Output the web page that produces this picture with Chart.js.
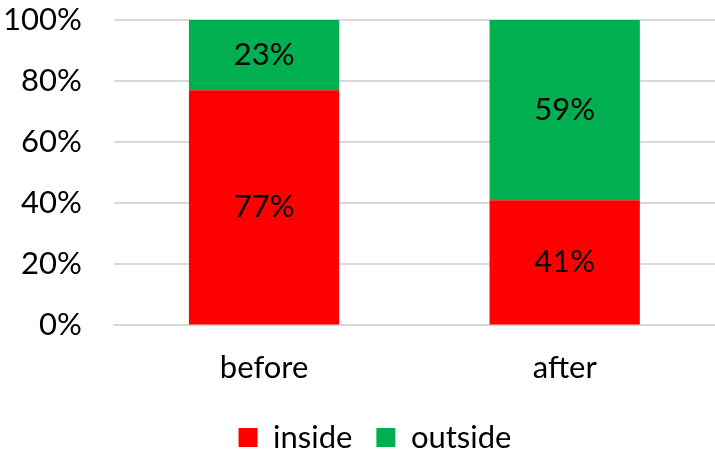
<!DOCTYPE html>
<html>
<head>
<meta charset="utf-8">
<script src="https://cdn.jsdelivr.net/npm/chart.js@4"></script>
<style>
  html, body { margin: 0; padding: 0; background: #fff; }
  #wrap { width: 715px; height: 451px; }
</style>
</head>
<body>
<div id="wrap"><canvas id="chart" width="715" height="451"></canvas></div>
<script>
// chart data
var categories = ["before", "after"];
var insideValues = [77, 41];
var outsideValues = [23, 59];
var yTicks = [0, 20, 40, 60, 80, 100];

var FONT = "Lato, 'Open Sans', sans-serif";
var FSIZE = 31;

// draw the percentage inside each bar segment
var barLabels = {
	id: "barLabels",
	afterDatasetsDraw: function(chart) {
		var ctx = chart.ctx;
		ctx.save();
		ctx.font = FSIZE + "px " + FONT;
		ctx.fillStyle = "#000";
		ctx.textAlign = "center";
		ctx.textBaseline = "middle";
		chart.data.datasets.forEach(function(ds, i) {
			chart.getDatasetMeta(i).data.forEach(function(bar, j) {
				var mid = (bar.y + bar.base) / 2;
				ctx.fillText(ds.data[j] + "%", bar.x, mid);
			});
		});
		ctx.restore();
	}
};

// excel centres the legend a bit right of the canvas centre
var legendShift = {
	id: "legendShift",
	afterLayout: function(chart) {
		chart.legend.left += 32;
		chart.legend.right += 32;
		chart.legend.top -= 4;
		chart.legend.bottom -= 4;
	}
};

new Chart(document.getElementById("chart"), {
	type: "bar",
	data: {
		labels: categories,
		datasets: [{
			label: "inside",
			data: insideValues,
			backgroundColor: "#ff0000",
			barPercentage: 0.5,
			categoryPercentage: 1
		}, {
			label: "outside",
			data: outsideValues,
			backgroundColor: "#00b050",
			barPercentage: 0.5,
			categoryPercentage: 1
		}]
	},
	options: {
		responsive: false,
		animation: false,
		layout: { padding: { left: -29, right: 0, top: 20, bottom: -16 } },
		plugins: {
			legend: {
				position: "bottom",
				labels: {
					font: { size: FSIZE, family: FONT },
					color: "#000",
					boxWidth: 19,
					boxHeight: 19,
					padding: 24
				}
			},
			tooltip: { enabled: false }
		},
		scales: {
			x: {
				stacked: true,
				grid: { display: false },
				border: { color: "#d9d9d9", width: 2 },
				ticks: { font: { size: FSIZE, family: FONT, lineHeight: 1.05 }, color: "#000", padding: 18 }
			},
			y: {
				stacked: true,
				min: 0,
				max: 100,
				afterBuildTicks: function(axis) {
					axis.ticks = yTicks.map(function(v) { return { value: v }; });
				},
				afterFit: function(axis) {
					axis.paddingTop = 0;
					axis.paddingBottom = 0;
				},
				grid: { color: "#d9d9d9", lineWidth: 2, drawTicks: false },
				border: { display: false },
				ticks: {
					font: { size: FSIZE, family: FONT },
					color: "#000",
					padding: 32,
					callback: function(v) { return v + "%"; }
				}
			}
		}
	},
	plugins: [barLabels, legendShift]
});
</script>
</body>
</html>
